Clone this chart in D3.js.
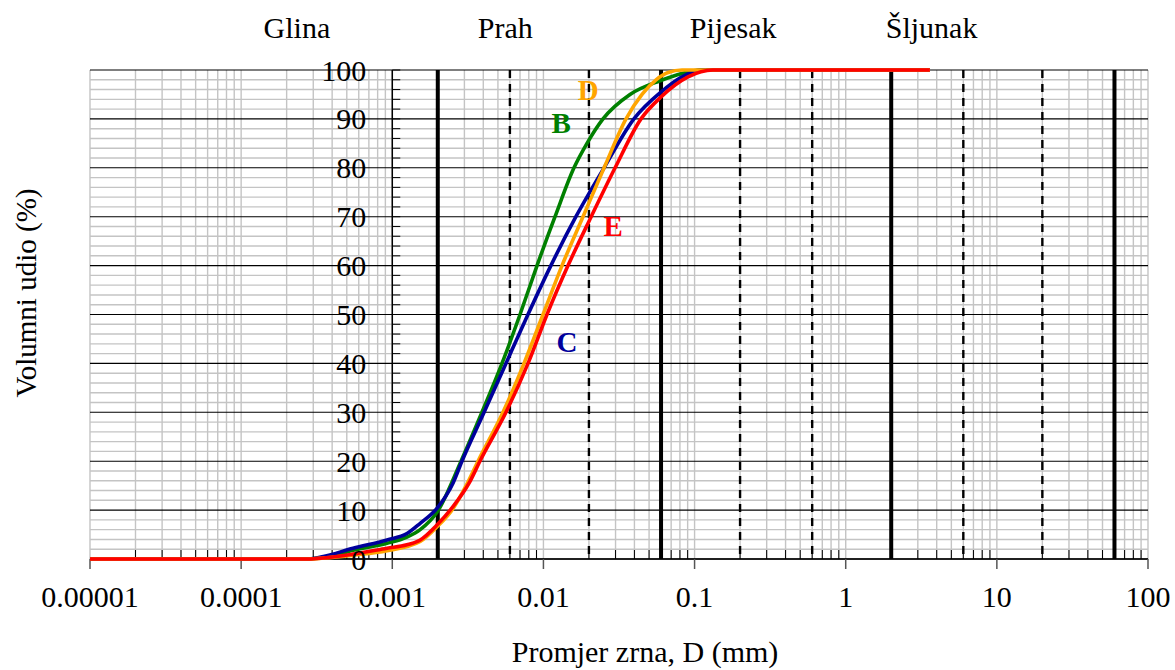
<!DOCTYPE html>
<html>
<head>
<style>
  body { margin: 0; background: #fff; }
</style>
</head>
<body>
<script src="https://d3js.org/d3.v7.min.js"></script>
<script>
var width = 1175, height = 670;

// grain size curves: diameter (mm) -> cumulative volume share (%)
var diamB = [0.00001, 0.00028, 0.00035, 0.00055, 0.000923, 0.00125, 0.00153, 0.00198, 0.00285, 0.00392, 0.00532, 0.007, 0.00907, 0.01193, 0.01593, 0.01942, 0.02478, 0.0374, 0.0591, 0.0826, 0.109, 0.3, 3.6];
var valB  = [0, 0, 0.3, 1.8, 3.2, 4.5, 6.0, 9.6, 20, 30, 40, 50, 60, 70, 80, 85, 90, 95, 97.8, 99.3, 100, 100, 100];

var diamC = [0.00001, 0.00028, 0.00035, 0.00055, 0.000923, 0.00125, 0.00153, 0.00198, 0.00252, 0.00289, 0.00405, 0.00565, 0.0079, 0.0112, 0.0164, 0.0252, 0.0397, 0.06, 0.0826, 0.109, 0.3, 3.6];
var valC  = [0, 0, 0.5, 2.2, 3.9, 5.2, 7.3, 10.4, 15.5, 20, 30, 40, 50, 60, 70, 80, 90, 95.5, 98.6, 100, 100, 100];

var diamD = [0.00001, 0.00028, 0.00035, 0.00055, 0.000923, 0.00153, 0.00198, 0.00252, 0.00308, 0.00369, 0.0054, 0.00744, 0.00994, 0.01327, 0.01827, 0.0252, 0.0352, 0.0449, 0.0556, 0.0668, 0.0826, 0.3, 3.6];
var valD  = [0, 0, 0.2, 0.8, 1.7, 3.6, 6.6, 10.3, 15, 20, 30, 40, 50, 60, 70, 80, 90, 95, 98, 99.5, 100, 100, 100];

var diamE = [0.00001, 0.00028, 0.00035, 0.00055, 0.000923, 0.00125, 0.00153, 0.00198, 0.00252, 0.00322, 0.0038, 0.00565, 0.00791, 0.01056, 0.01454, 0.0207, 0.0298, 0.0442, 0.06, 0.0905, 0.132, 0.3, 3.6];
var valE  = [0, 0, 0.2, 1.0, 2.2, 2.9, 3.9, 7.0, 10.7, 15.5, 20, 30, 40, 50, 60, 70, 80, 90, 94.5, 98.6, 100, 100, 100];

var seriesNames = ["B", "C", "D", "E"];
var seriesColors = ["#008000", "#00009c", "#ffa500", "#ff0000"];
var labelDiam = [0.0131, 0.0143, 0.0198, 0.0289];
var labelVal = [89.2, 44.4, 95.9, 68.1];

var zoneNames = ["Glina", "Prah", "Pijesak", "Šljunak"];
var zoneLabelDiam = [0.000234, 0.0056, 0.18, 3.7];
var boundaries = [0.002, 0.06, 2, 60];
var subBoundaries = [0.006, 0.02, 0.2, 0.6, 6, 20];

var xTicks = [0.00001, 0.0001, 0.001, 0.01, 0.1, 1, 10, 100];
var xTickLabels = ["0.00001", "0.0001", "0.001", "0.01", "0.1", "1", "10", "100"];
var yTicks = [0, 10, 20, 30, 40, 50, 60, 70, 80, 90, 100];

// pick the first serif face that is really installed
function pickFont(list) {
  var ctx = document.createElement("canvas").getContext("2d");
  var probe = "Promjer zrna 0123 Wlmi";
  ctx.font = "30px monospace";
  var base = ctx.measureText(probe).width;
  for (var i = 0; i < list.length; i++) {
    ctx.font = "30px '" + list[i] + "', monospace";
    if (Math.abs(ctx.measureText(probe).width - base) > 0.5) return "'" + list[i] + "'";
  }
  return "serif";
}
var fontFamily = pickFont(["Liberation Serif", "Tinos", "Times New Roman", "Times", "DejaVu Serif", "Noto Serif", "FreeSerif", "Nimbus Roman"]);

var svg = d3.select("body").append("svg")
    .attr("width", width)
    .attr("height", height)
    .style("font-family", fontFamily);

var x = d3.scaleLog().domain([0.00001, 100]).range([90, 1148]);
var y = d3.scaleLinear().domain([0, 100]).range([559, 70]);
var axisX = x(0.001);

// minor values of the log axis
var minor = [];
for (var e = -5; e < 2; e++) {
  for (var k = 2; k <= 9; k++) minor.push(k * Math.pow(10, e));
}
var gridX = minor.concat(xTicks);
var gridY = d3.range(0, 101, 2);

var grid = svg.append("g");
grid.selectAll(".gx").data(gridX).enter().append("line")
    .attr("x1", d => x(d)).attr("x2", d => x(d))
    .attr("y1", y(100)).attr("y2", y(0))
    .attr("stroke", "#c4c4c4").attr("stroke-width", 1.4);
grid.selectAll(".gy").data(gridY.filter(d => d % 10 !== 0)).enter().append("line")
    .attr("x1", x.range()[0]).attr("x2", x.range()[1])
    .attr("y1", d => y(d)).attr("y2", d => y(d))
    .attr("stroke", "#c4c4c4").attr("stroke-width", 1.4);
grid.selectAll(".gy10").data(yTicks).enter().append("line")
    .attr("x1", x.range()[0]).attr("x2", x.range()[1])
    .attr("y1", d => y(d)).attr("y2", d => y(d))
    .attr("stroke", "#000").attr("stroke-width", 1.1);

// soil fraction boundaries
svg.selectAll(".bnd").data(boundaries).enter().append("line")
    .attr("x1", d => x(d)).attr("x2", d => x(d))
    .attr("y1", y(100)).attr("y2", y(0))
    .attr("stroke", "#000").attr("stroke-width", 4);
svg.selectAll(".sub").data(subBoundaries).enter().append("line")
    .attr("x1", d => x(d)).attr("x2", d => x(d))
    .attr("y1", y(100)).attr("y2", y(0))
    .attr("stroke", "#000").attr("stroke-width", 2.4)
    .attr("stroke-dasharray", "8,6");

// x axis
svg.append("line")
    .attr("x1", x.range()[0]).attr("x2", x.range()[1])
    .attr("y1", y(0)).attr("y2", y(0))
    .attr("stroke", "#000").attr("stroke-width", 1.5);
svg.selectAll(".xmaj").data(xTicks).enter().append("line")
    .attr("x1", d => x(d)).attr("x2", d => x(d))
    .attr("y1", y(0)).attr("y2", y(0) + 10)
    .attr("stroke", "#555").attr("stroke-width", 1.5);
svg.selectAll(".xmin").data(minor).enter().append("line")
    .attr("x1", d => x(d)).attr("x2", d => x(d))
    .attr("y1", y(0)).attr("y2", y(0) - 9)
    .attr("stroke", "#000").attr("stroke-width", 1);

// y axis sits at 0.001 mm
svg.append("line")
    .attr("x1", axisX).attr("x2", axisX)
    .attr("y1", y(100)).attr("y2", y(0))
    .attr("stroke", "#000").attr("stroke-width", 1.5);
svg.selectAll(".ymin").data(gridY).enter().append("line")
    .attr("x1", axisX).attr("x2", axisX + 8)
    .attr("y1", d => y(d)).attr("y2", d => y(d))
    .attr("stroke", "#000").attr("stroke-width", 1);

// curves
var line = d3.line()
    .x(d => x(d[0]))
    .y(d => y(d[1]))
    .curve(d3.curveMonotoneX);

var curves = [
  d3.zip(diamB, valB),
  d3.zip(diamC, valC),
  d3.zip(diamD, valD),
  d3.zip(diamE, valE)
];

svg.selectAll(".curve").data(curves).enter().append("path")
    .attr("d", line)
    .attr("fill", "none")
    .attr("stroke", (d, i) => seriesColors[i])
    .attr("stroke-width", 3.6)
    .attr("stroke-linejoin", "round");

svg.selectAll(".clabel").data(seriesNames).enter().append("text")
    .attr("x", (d, i) => x(labelDiam[i]))
    .attr("y", (d, i) => y(labelVal[i]))
    .attr("dy", "0.35em")
    .attr("text-anchor", "middle")
    .style("font-size", "29px")
    .style("font-weight", "bold")
    .style("fill", (d, i) => seriesColors[i])
    .text(d => d);

// tick labels
svg.selectAll(".ylab").data(yTicks).enter().append("text")
    .attr("x", axisX - 26)
    .attr("y", d => y(d))
    .attr("dy", "0.35em")
    .attr("text-anchor", "end")
    .style("font-size", "30px")
    .text(d => d);

svg.selectAll(".xlab").data(xTicks).enter().append("text")
    .attr("x", d => x(d))
    .attr("y", 607)
    .attr("text-anchor", "middle")
    .style("font-size", "30px")
    .text((d, i) => xTickLabels[i]);

svg.selectAll(".zone").data(zoneNames).enter().append("text")
    .attr("x", (d, i) => x(zoneLabelDiam[i]))
    .attr("y", 38)
    .attr("text-anchor", "middle")
    .style("font-size", "30px")
    .text(d => d);

svg.append("text")
    .attr("x", 645)
    .attr("y", 662)
    .attr("text-anchor", "middle")
    .style("font-size", "30px")
    .text("Promjer zrna, D (mm)");

svg.append("text")
    .attr("transform", "translate(36,293) rotate(-90)")
    .attr("text-anchor", "middle")
    .style("font-size", "29px")
    .text("Volumni udio (%)");
</script>
</body>
</html>
